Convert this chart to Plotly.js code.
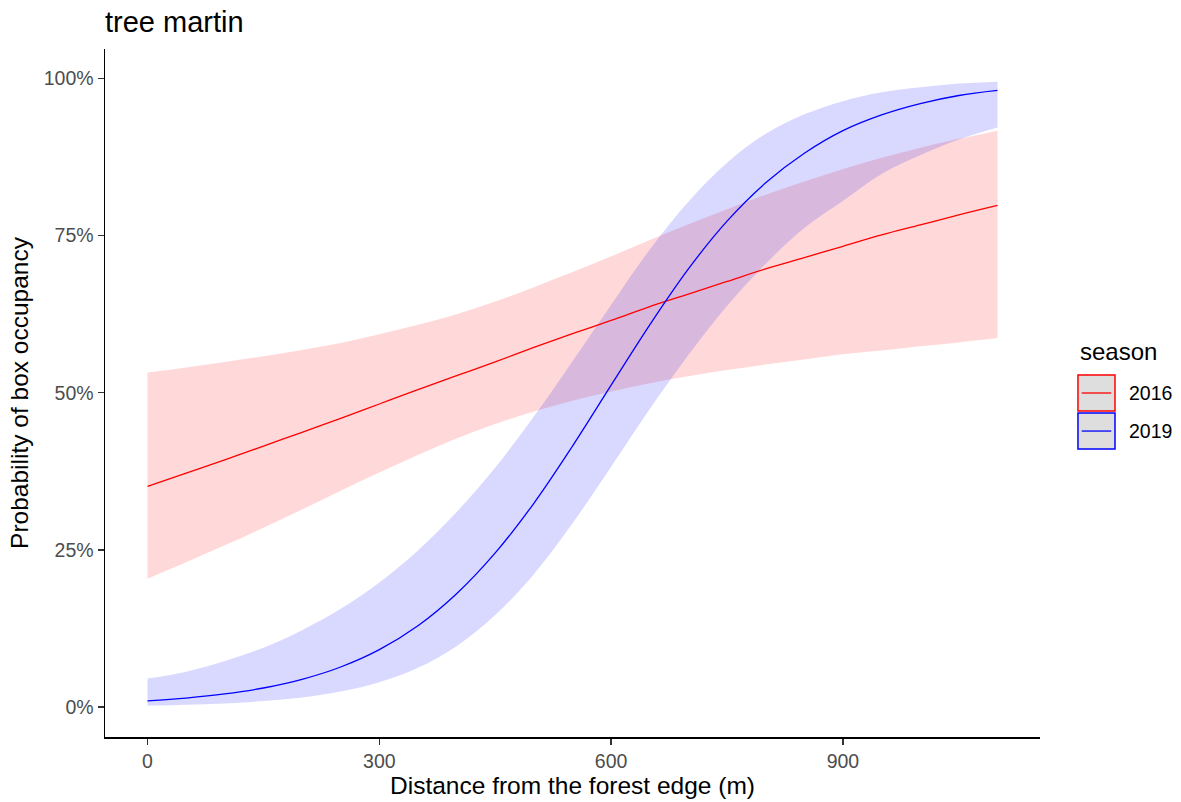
<!DOCTYPE html>
<html>
<head>
<meta charset="utf-8">
<script src="https://cdn.plot.ly/plotly-3.0.1.min.js"></script>
<style>html,body{margin:0;padding:0;background:#fff;}#chart{width:1181px;height:802px;}</style>
</head>
<body>
<div id="chart"></div>
<script>
// ---- data ----
const seasons = ['2016', '2019'];
const distance = [0,50,100,150,200,250,300,350,400,450,500,550,600,650,700,750,800,850,900,950,1000,1050,1100];

const fit2016   = [0.351,0.372,0.393,0.415,0.437,0.459,0.482,0.505,0.527,0.549,0.572,0.594,0.615,0.637,0.657,0.677,0.697,0.715,0.733,0.751,0.767,0.783,0.798];
const upper2016 = [0.532,0.540,0.549,0.558,0.568,0.579,0.593,0.608,0.625,0.645,0.668,0.692,0.717,0.743,0.768,0.792,0.815,0.836,0.856,0.874,0.890,0.904,0.917];
const lower2016 = [0.204,0.230,0.257,0.285,0.314,0.344,0.373,0.401,0.427,0.450,0.470,0.487,0.502,0.515,0.526,0.536,0.545,0.553,0.561,0.567,0.574,0.580,0.587];

const fit2019   = [0.0095,0.0140,0.0205,0.0300,0.0438,0.0634,0.0910,0.129,0.180,0.245,0.324,0.415,0.512,0.608,0.697,0.773,0.834,0.881,0.917,0.942,0.960,0.973,0.981];
const upper2019 = [0.045,0.056,0.073,0.094,0.122,0.156,0.198,0.249,0.310,0.381,0.462,0.550,0.640,0.728,0.804,0.866,0.912,0.943,0.964,0.978,0.986,0.992,0.995];
const lower2019 = [0.002,0.0034,0.0055,0.0091,0.0149,0.0243,0.0391,0.0621,0.0966,0.146,0.211,0.292,0.382,0.474,0.560,0.638,0.705,0.762,0.805,0.848,0.878,0.903,0.922];

const xTicks = [0, 300, 600, 900];
const yTicks = [0, 0.25, 0.5, 0.75, 1];

// ---- styles ----
const lineColors = {'2016': '#FF0000', '2019': '#0000FF'};
const fillColors = {'2016': 'rgba(255,0,0,0.15)', '2019': 'rgba(0,0,255,0.15)'};
const FONT = 'Liberation Sans, Arial, sans-serif';

const series = {
  '2016': {fit: fit2016, lo: lower2016, hi: upper2016},
  '2019': {fit: fit2019, lo: lower2019, hi: upper2019}
};

const traces = [];
seasons.forEach(s => {
  traces.push({x: distance, y: series[s].lo, type: 'scatter', mode: 'lines',
    line: {width: 0, shape: 'spline', smoothing: 1}, hoverinfo: 'skip', showlegend: false});
  traces.push({x: distance, y: series[s].hi, type: 'scatter', mode: 'lines', fill: 'tonexty',
    fillcolor: fillColors[s], line: {width: 0, shape: 'spline', smoothing: 1}, hoverinfo: 'skip', showlegend: false});
});
seasons.forEach(s => {
  traces.push({x: distance, y: series[s].fit, type: 'scatter', mode: 'lines', name: s,
    line: {color: lineColors[s], width: 1.3, shape: 'spline', smoothing: 1}, showlegend: false});
});

// custom ggplot-like legend
const shapes = [];
const annotations = [];
const keyX0 = 1.0406, keyX1 = 1.0802;
const keyTops = [0.5262, 0.4709];
const keyH = 0.0524;
annotations.push({xref: 'paper', yref: 'paper', x: keyX0, y: 0.5596, xanchor: 'left', yanchor: 'middle',
  text: 'season', showarrow: false, font: {family: FONT, size: 24, color: '#000'}});
seasons.forEach((s, i) => {
  const top = keyTops[i], bot = top - keyH, mid = (top + bot) / 2;
  shapes.push({type: 'rect', xref: 'paper', yref: 'paper', x0: keyX0, x1: keyX1, y0: bot, y1: top,
    fillcolor: '#DEDEDE', line: {color: lineColors[s], width: 1.5}});
  shapes.push({type: 'line', xref: 'paper', yref: 'paper', x0: keyX0 + 0.004, x1: keyX1 - 0.004, y0: mid, y1: mid,
    line: {color: lineColors[s], width: 1.3}});
  annotations.push({xref: 'paper', yref: 'paper', x: 1.093, y: mid, xanchor: 'left', yanchor: 'middle',
    text: s, showarrow: false, font: {family: FONT, size: 19.5, color: '#000'}});
});

const layout = {
  width: 1181, height: 802,
  paper_bgcolor: '#fff', plot_bgcolor: '#fff',
  margin: {l: 105, r: 141, t: 49, b: 65},
  font: {family: FONT, color: '#000'},
  title: {text: 'tree martin', x: 0, xref: 'paper', xanchor: 'left', y: 0.9732, yref: 'container', yanchor: 'middle',
    font: {family: FONT, size: 29, color: '#000'}},
  xaxis: {
    range: [-55, 1155], tickvals: xTicks, ticktext: xTicks.map(String),
    showgrid: false, zeroline: false, showline: true, linecolor: '#000', linewidth: 1.5,
    ticks: 'outside', ticklen: 6, tickwidth: 1.5, tickcolor: '#333',
    tickfont: {family: FONT, size: 19.5, color: '#4D4D4D'},
    title: {text: 'Distance from the forest edge (m)', font: {family: FONT, size: 24.5, color: '#000'}, standoff: 6}
  },
  yaxis: {
    range: [-0.048, 1.047], tickvals: yTicks, tickformat: '.0%',
    showgrid: false, zeroline: false, showline: true, linecolor: '#000', linewidth: 1.5,
    ticks: 'outside', ticklen: 6, tickwidth: 1.5, tickcolor: '#333',
    tickfont: {family: FONT, size: 19.5, color: '#4D4D4D'},
    title: {text: 'Probability of box occupancy', font: {family: FONT, size: 24.5, color: '#000'}, standoff: 8}
  },
  shapes: shapes,
  annotations: annotations,
  showlegend: false
};

Plotly.newPlot('chart', traces, layout, {displayModeBar: false, staticPlot: true});
</script>
</body>
</html>
